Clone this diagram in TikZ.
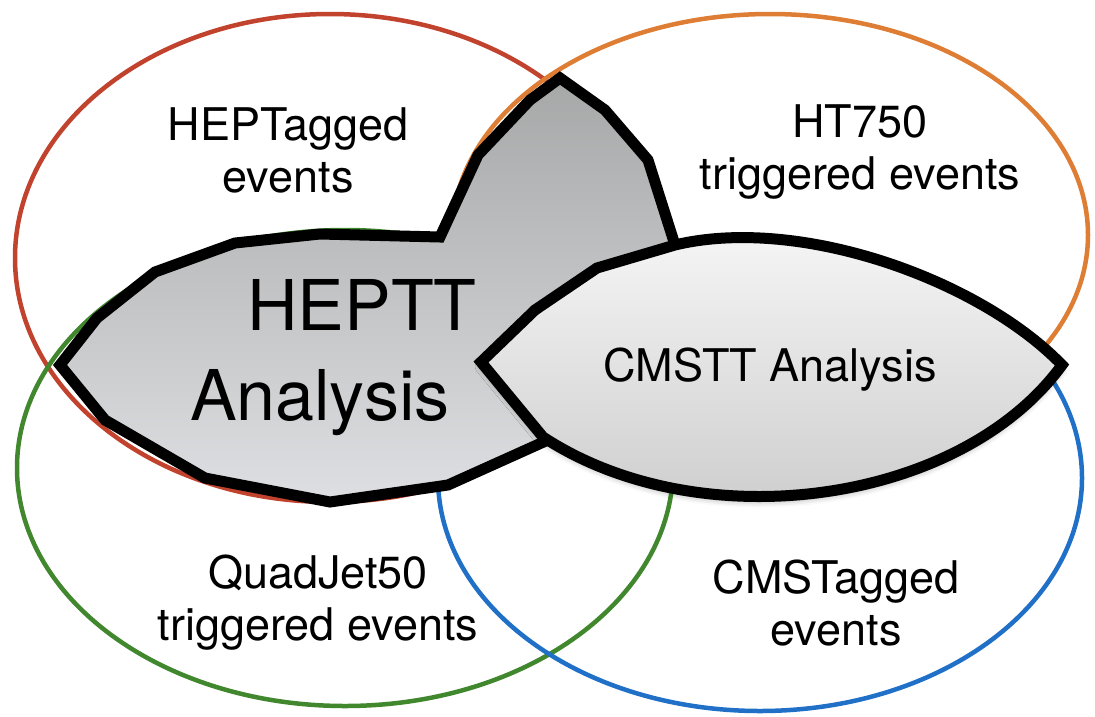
\documentclass[tikz,border=0pt]{standalone}
\usepackage{fontspec}
\setmainfont{TeX Gyre Heros}
\usetikzlibrary{shadows.blur}
\definecolor{rojo}{RGB}{193,67,45}
\definecolor{naranja}{RGB}{222,125,52}
\definecolor{verde}{RGB}{64,135,45}
\definecolor{azul}{RGB}{32,112,200}
\begin{document}
\begin{tikzpicture}[x=1pt,y=-1pt,
    conjunto/.style={line width=4.5pt},
    etiqueta/.style={font=\fontsize{45}{52}\selectfont,align=center,inner sep=0pt},
    analisis/.style={line width=11pt,line join=miter,draw=black}]
    \useasboundingbox (0,0) rectangle (1095,716);

    % Conjuntos de eventos
    \draw[conjunto,rojo] (330,258) ellipse [x radius=315,y radius=244];
    \draw[conjunto,naranja] (770,235) ellipse [x radius=318,y radius=221];
    \draw[conjunto,verde] (345,468) ellipse [x radius=328,y radius=238];
    \draw[conjunto,azul] (760,478) ellipse [x radius=322,y radius=233];

    % Region HEPTT
    \path[analisis,top color={rgb,255:red,166;green,168;blue,168},bottom color={rgb,255:red,222;green,223;blue,226}]
        (60,365) -- (97,318) -- (155,272) -- (235,243) -- (320,234) -- (440,237)
        -- (478,155) -- (530,100) -- (560,78) -- (605,110) -- (648,160) -- (675,245)
        -- (600,330) -- (548,440) -- (448,485) -- (330,502) -- (205,478) -- (105,420) -- cycle;

    % Region CMSTT
    \path[analisis,top color=gray!6,bottom color=gray!42,
          blur shadow={shadow xshift=0pt,shadow yshift=-5pt,shadow blur radius=6pt,shadow opacity=35}]
        (481,362) -- (535,310) -- (597,268) -- (675,245)
        .. controls (800,215) and (980,280) .. (1062,365)
        .. controls (960,505) and (700,540) .. (543,437) -- cycle;

    % Textos
    \node[etiqueta] (hepTag) at (288,150) {HEPTagged\\events};
    \node[etiqueta] (htTrig) at (860,152) {HT750\\triggered events};
    \node[etiqueta] (quadTrig) at (318,603) {QuadJet50\\triggered events};
    \node[etiqueta] (cmsTag) at (836,603) {CMSTagged\\events};
    \node[etiqueta] (cmstt) at (770,370) {CMSTT Analysis};
    \node[font=\fontsize{70}{90}\selectfont,align=left,inner sep=0pt,anchor=west] (heptt) at (190,358)
        {\hspace*{57pt}HEPTT\\Analysis};
\end{tikzpicture}
\end{document}
